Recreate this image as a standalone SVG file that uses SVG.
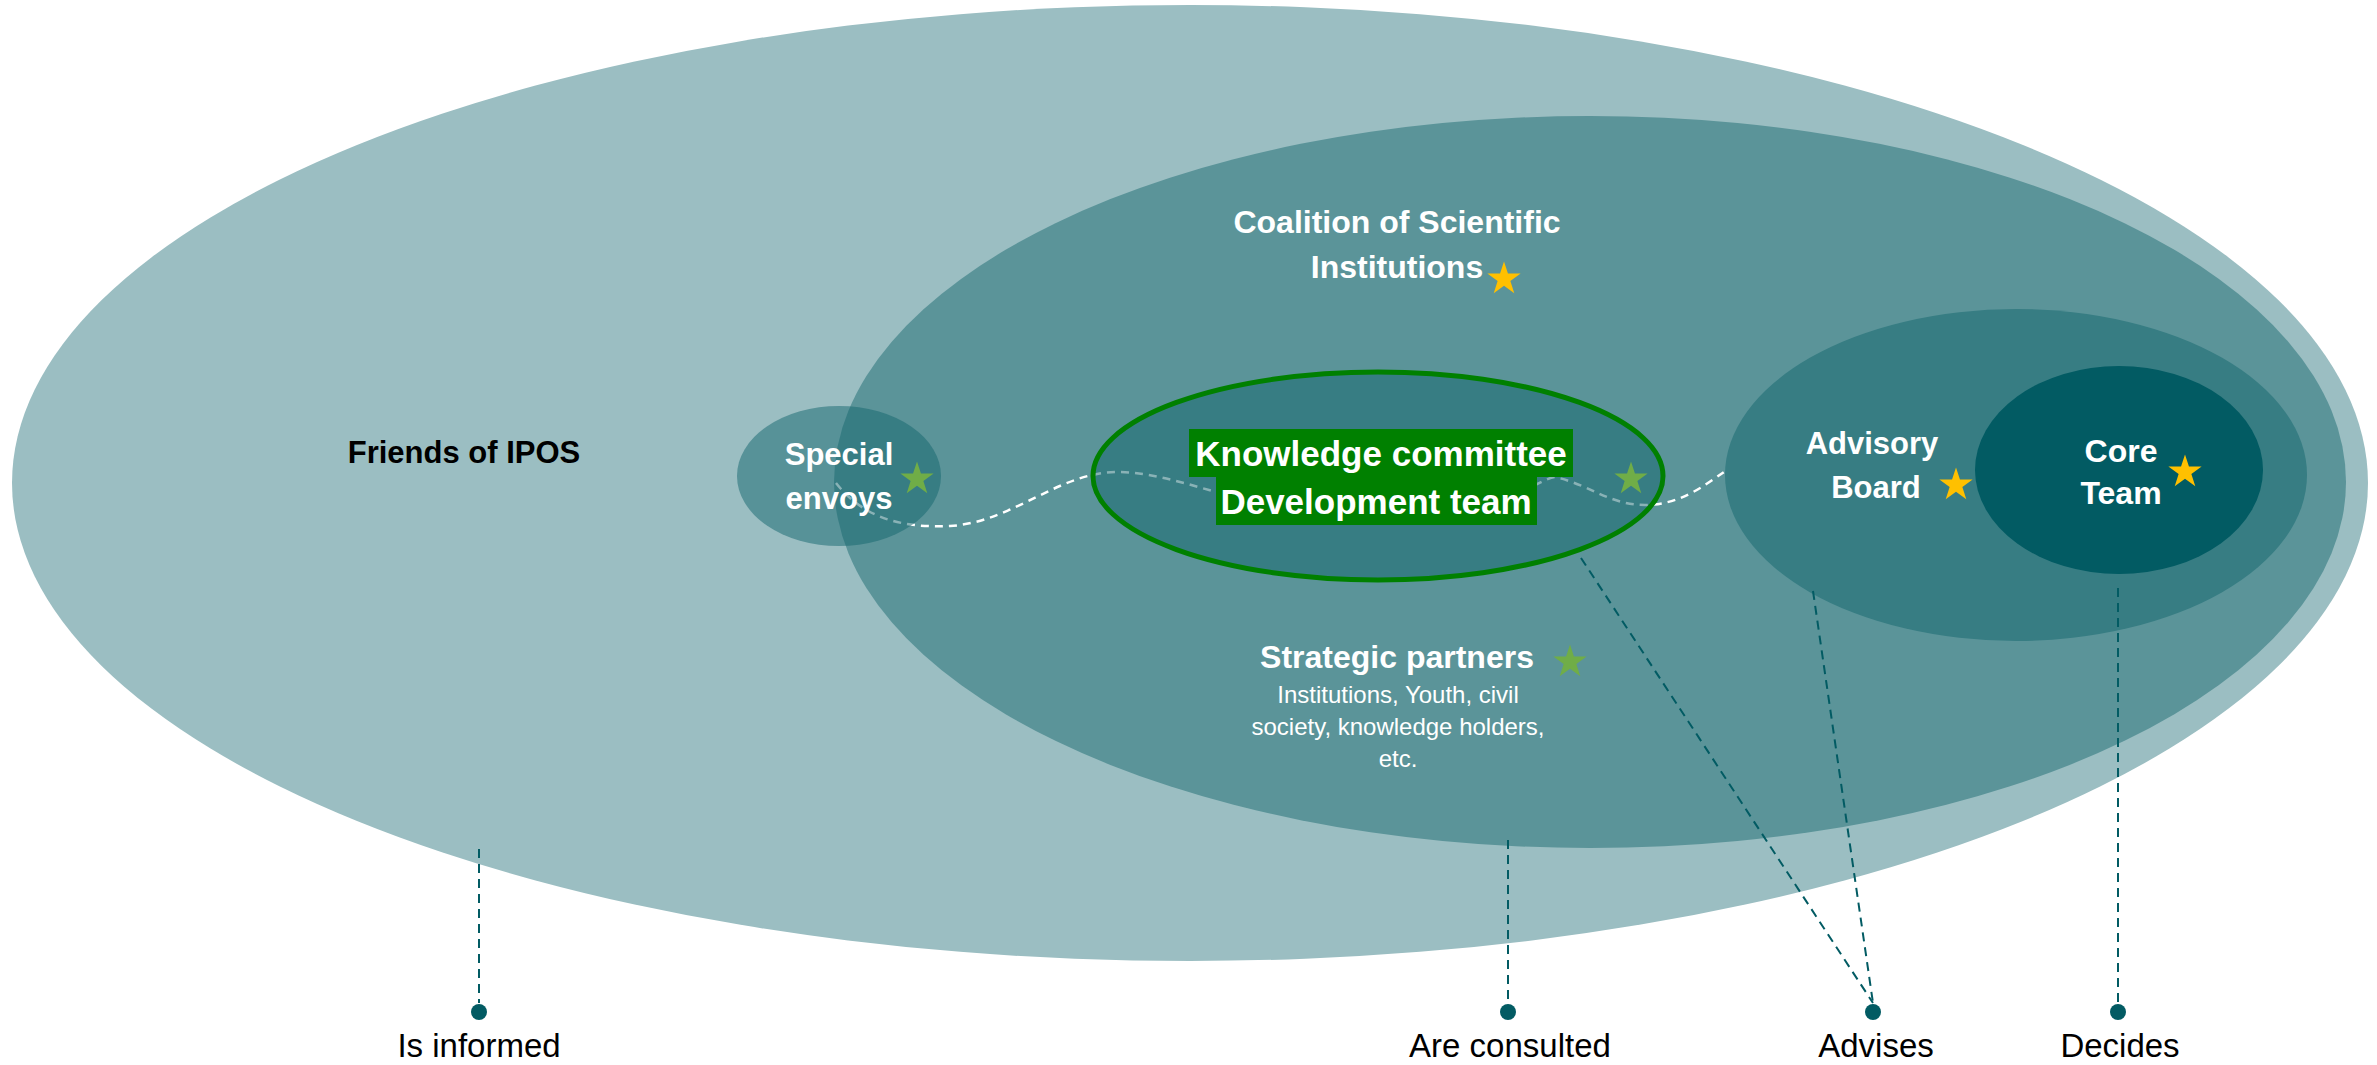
<svg xmlns="http://www.w3.org/2000/svg" xmlns:xlink="http://www.w3.org/1999/xlink" width="2377" height="1065" viewBox="0 0 2377 1065">
<style>
.lbl{font-family:"Liberation Sans",Arial,sans-serif;font-weight:bold;fill:#ffffff;text-anchor:middle}
.sub{font-family:"Liberation Sans",Arial,sans-serif;fill:#ffffff;text-anchor:middle;font-size:24px}
.cap{font-family:"Liberation Sans",Arial,sans-serif;fill:#000000;text-anchor:middle;font-size:33px}
.conn{stroke:#025B63;stroke-width:2;stroke-dasharray:9 6;fill:none}
.dot{fill:#025B63}
.gold{fill:#FFC000}
.grn{fill:#70AD47}
</style>
<defs>
<path id="star" d="M0,-17.5 L3.94,-5.42 L16.64,-5.41 L6.37,2.07 L10.29,14.16 L0,6.7 L-10.29,14.16 L-6.37,2.07 L-16.64,-5.41 L-3.94,-5.42 Z"/>
</defs>
<rect width="2377" height="1065" fill="#ffffff"/>

<g id="friends">
<ellipse cx="1190" cy="483" rx="1178" ry="478" fill="#9BBEC2"/>
<text class="lbl" x="464" y="463" font-size="31" style="fill:#000000">Friends of IPOS</text>
</g>

<g id="consulted">
<ellipse cx="1590" cy="482" rx="756" ry="366" fill="#5B9499"/>
<text class="lbl" x="1397" y="233" font-size="32">Coalition of Scientific</text>
<text class="lbl" x="1397" y="278" font-size="32">Institutions</text>
<use xlink:href="#star" class="gold" transform="translate(1504,279)"/>
<text class="lbl" x="1397" y="668" font-size="32">Strategic partners</text>
<use xlink:href="#star" class="grn" transform="translate(1570,662)"/>
<text class="sub" x="1398" y="703">Institutions, Youth, civil</text>
<text class="sub" x="1398" y="735">society, knowledge holders,</text>
<text class="sub" x="1398" y="767">etc.</text>
</g>

<g id="advisory">
<ellipse cx="2016" cy="475" rx="291" ry="166" fill="#377D83"/>
<text class="lbl" x="1872" y="454" font-size="31">Advisory</text>
<text class="lbl" x="1876" y="498" font-size="31">Board</text>
<use xlink:href="#star" class="gold" transform="translate(1956,485)"/>
</g>

<g id="core">
<ellipse cx="2119" cy="470" rx="144" ry="104" fill="#025B63"/>
<text class="lbl" x="2121" y="462" font-size="32">Core</text>
<text class="lbl" x="2121" y="504" font-size="32">Team</text>
<use xlink:href="#star" class="gold" transform="translate(2185,472)"/>
</g>

<g id="connectors">
<path d="M836,483 C865,520 905,528 950,526 C1015,522 1060,470 1121,472 C1180,474 1230,505 1300,505 L1500,500 C1530,490 1545,478 1555,477 C1590,485 1610,505 1645,505 C1680,505 1705,485 1724,472" fill="none" stroke="#ffffff" stroke-width="2.5" stroke-dasharray="8 6"/>
</g>

<g id="envoys">
<ellipse cx="839" cy="476" rx="102" ry="70" fill="#13666D" fill-opacity="0.5"/>
</g>

<g id="knowledge">
<ellipse cx="1378" cy="476" rx="285" ry="104" fill="#13666D" fill-opacity="0.5" stroke="#008000" stroke-width="5"/>
</g>

<g id="links">
<line class="conn" x1="479" y1="849" x2="479" y2="1003"/>
<line class="conn" x1="1508" y1="840" x2="1508" y2="1003"/>
<line class="conn" x1="1581" y1="558" x2="1873" y2="1003"/>
<line class="conn" x1="1813" y1="591" x2="1873" y2="1003"/>
<line class="conn" x1="2118" y1="588" x2="2118" y2="1003"/>
<circle class="dot" cx="479" cy="1012" r="8"/>
<circle class="dot" cx="1508" cy="1012" r="8"/>
<circle class="dot" cx="1873" cy="1012" r="8"/>
<circle class="dot" cx="2118" cy="1012" r="8"/>
</g>

<g id="envoys-label">
<text class="lbl" x="839" y="465" font-size="31">Special</text>
<text class="lbl" x="839" y="509" font-size="31">envoys</text>
<use xlink:href="#star" class="grn" transform="translate(917,479)"/>
</g>

<g id="knowledge-label">
<rect x="1189" y="429" width="384" height="48" fill="#008000"/>
<rect x="1216" y="477" width="321" height="48" fill="#008000"/>
<text class="lbl" x="1381" y="466" font-size="35">Knowledge committee</text>
<text class="lbl" x="1376" y="514" font-size="35">Development team</text>
<use xlink:href="#star" class="grn" transform="translate(1631,479)"/>
</g>

<g id="captions">
<text class="cap" x="479" y="1057">Is informed</text>
<text class="cap" x="1510" y="1057">Are consulted</text>
<text class="cap" x="1876" y="1057">Advises</text>
<text class="cap" x="2120" y="1057">Decides</text>
</g>
</svg>
